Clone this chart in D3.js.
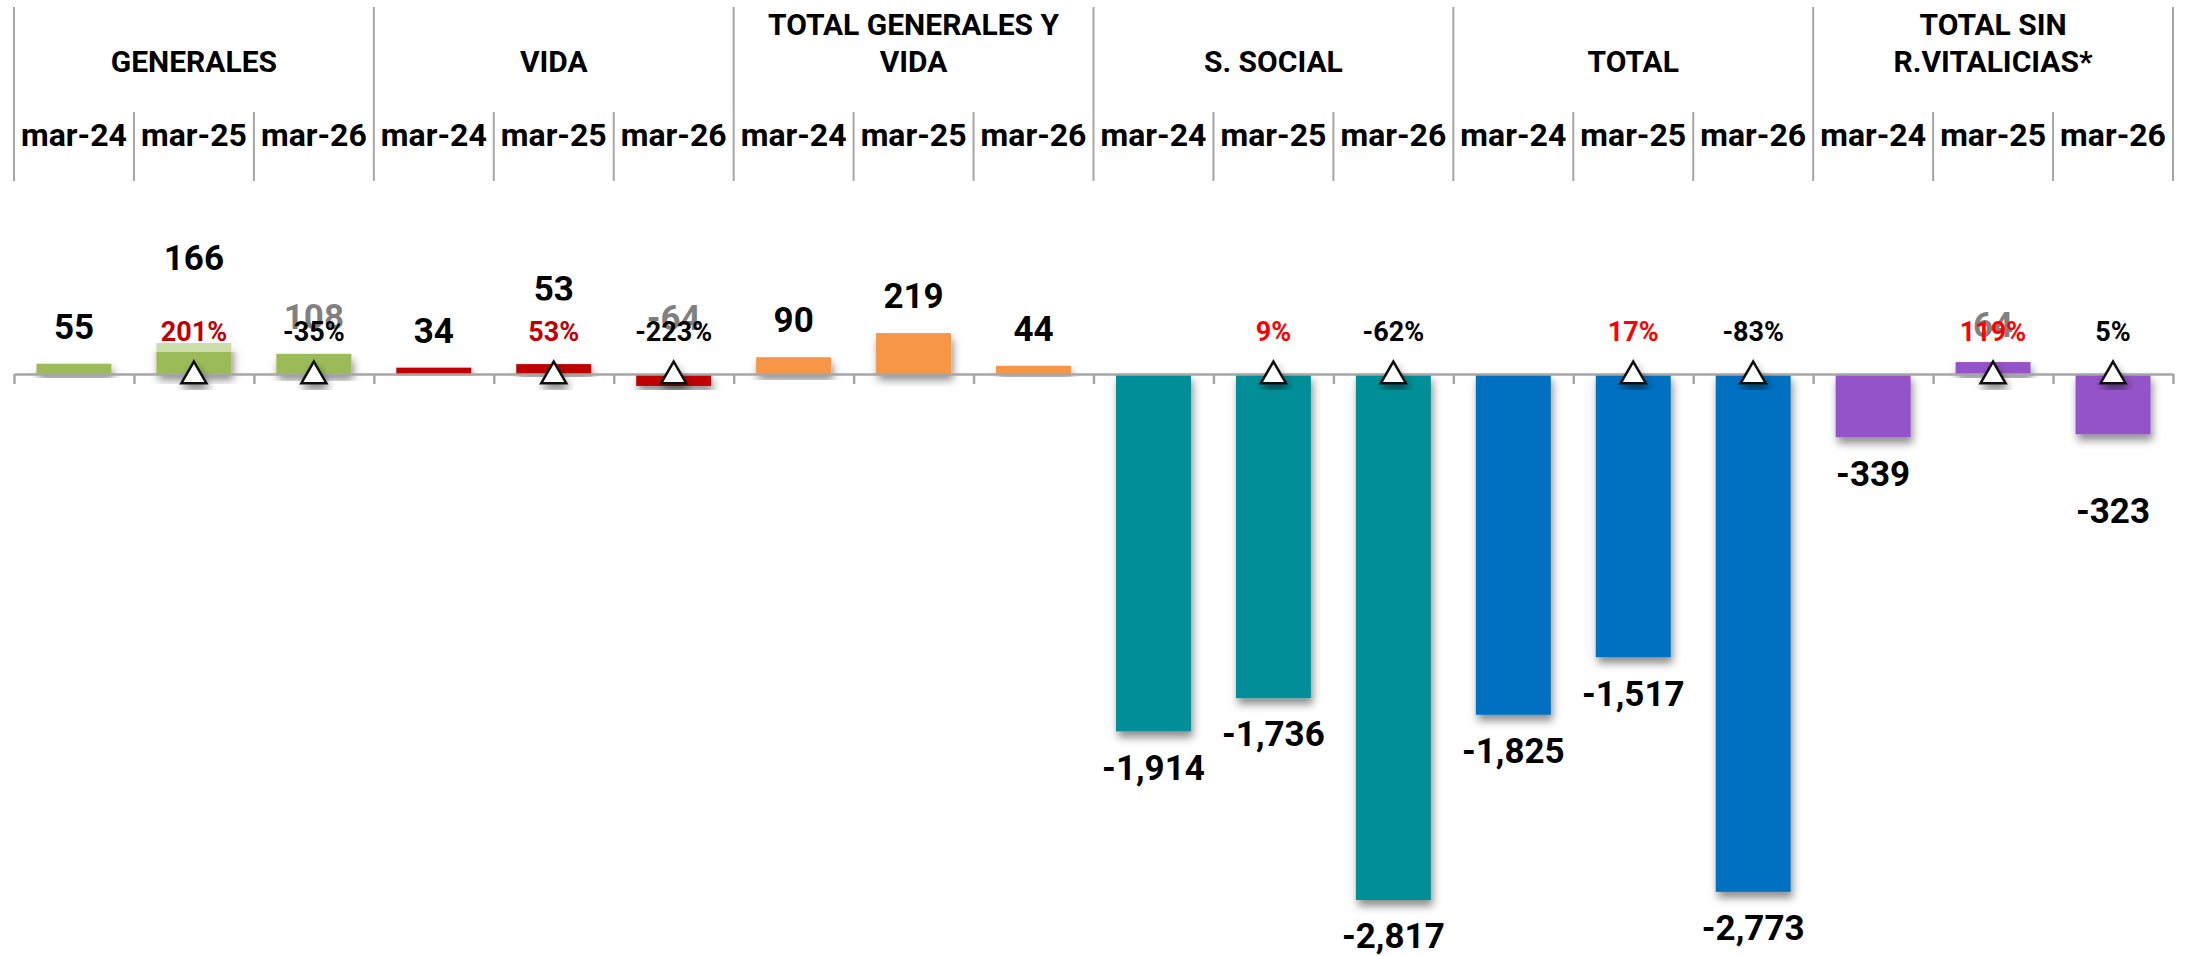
<!DOCTYPE html>
<html>
<head>
<meta charset="utf-8">
<script src="https://cdn.jsdelivr.net/npm/d3@7"></script>
<style>
body{margin:0;background:#fff;}
svg{display:block;font-family:Roboto,"Liberation Sans",sans-serif;font-weight:bold;}
</style>
</head>
<body>
<script>
// chart data
const groupTitles = [["GENERALES"], ["VIDA"], ["TOTAL GENERALES Y", "VIDA"], ["S. SOCIAL"], ["TOTAL"], ["TOTAL SIN", "R.VITALICIAS*"]]
const periods = ["mar-24", "mar-25", "mar-26"]
const generales = [55, 166, 108]
const vida = [34, 53, -64]
const totalGenVida = [90, 219, 44]
const sSocial = [-1914, -1736, -2817]
const total = [-1825, -1517, -2773]
const totalSinRV = [-339, 64, -323]
const pctGenerales = [null, 201, -35]
const pctVida = [null, 53, -223]
const pctTotalGenVida = [null, null, null]
const pctSSocial = [null, 9, -62]
const pctTotal = [null, 17, -83]
const pctTotalSinRV = [null, 119, 5]

let seriesValues = [generales, vida, totalGenVida, sSocial, total, totalSinRV]
let seriesPct = [pctGenerales, pctVida, pctTotalGenVida, pctSSocial, pctTotal, pctTotalSinRV]
let colors = ["#9BBB59", "#C00000", "#F79646", "#008F98", "#0070C0", "#9553C9"]
// colour of the % labels, the first two groups use a darker red
let pctColor = (g, v) => v < 0 || (g == 5 && v == 5) ? "#000" : (g < 2 ? "#C00000" : "#FF0000")

let data = []
seriesValues.forEach((vals, g) => vals.forEach((v, p) => {
    data.push({key: g + "-" + p, g: g, p: p, value: v, pct: seriesPct[g][p]})
}))

let w = 2187, h = 956
let left = 14, right = 2173, zeroY = 374
let fmt = d3.formatLocale({decimal: ".", thousands: ",", grouping: [3], currency: ["", ""], minus: "-"}).format(",")

let svg = d3.select("body").append("svg")
    .attr("width", w)
    .attr("height", h)

let defs = svg.append("defs")
defs.append("filter").attr("id", "shadow")
    .attr("x", "-30%").attr("y", "-30%").attr("width", "160%").attr("height", "160%")
    .append("feDropShadow")
    .attr("dx", 2).attr("dy", 6).attr("stdDeviation", 4)
    .attr("flood-color", "#000").attr("flood-opacity", 0.45)

let x = d3.scaleBand()
    .domain(data.map(d => d.key))
    .range([left, right])
    .paddingInner(0.375)
    .paddingOuter(0.1875)
let edge = d3.scaleLinear()
    .domain([0, data.length])
    .range([left, right])
let y = d3.scaleLinear()
    .domain([0, -2817])
    .range([zeroY, 900])

// header
let grid = svg.append("g").attr("stroke", "#A6A6A6").attr("stroke-width", 2)
d3.range(data.length + 1).forEach(i => {
    grid.append("line")
        .attr("x1", edge(i)).attr("x2", edge(i))
        .attr("y1", i % 3 == 0 ? 7 : 112)
        .attr("y2", 181)
})
groupTitles.forEach((lines, g) => {
    let t = svg.append("text")
        .attr("x", edge(g * 3 + 1.5))
        .attr("text-anchor", "middle")
        .attr("font-size", 30)
        .attr("fill", "#000")
    lines.forEach((l, i) => {
        t.append("tspan")
            .attr("x", edge(g * 3 + 1.5))
            .attr("y", (lines.length == 1 ? 61 : 24 + i * 37) + 11)
            .text(l)
    })
})
svg.selectAll(".period")
    .data(data)
    .enter()
    .append("text")
    .attr("class", "period")
    .attr("x", d => x(d.key) + x.bandwidth() / 2)
    .attr("y", 135 + 11)
    .attr("text-anchor", "middle")
    .attr("font-size", 32)
    .text(d => periods[d.p])

// bars
svg.append("g").selectAll("rect")
    .data(data)
    .enter()
    .append("rect")
    .attr("x", d => x(d.key))
    .attr("y", d => y(Math.max(0, d.value)))
    .attr("width", x.bandwidth())
    .attr("height", d => Math.abs(y(d.value) - y(0)))
    .attr("fill", d => colors[d.g])
    .attr("filter", "url(#shadow)")

let axis = svg.append("g")
    .attr("transform", "translate(0," + zeroY + ")")
    .call(d3.axisBottom(edge).tickValues(d3.range(data.length + 1)).tickSize(10).tickSizeOuter(0).tickFormat(""))
axis.selectAll("path,line").attr("stroke", "#A6A6A6").attr("stroke-width", 2.5)

// markers
let withPct = data.filter(d => d.pct != null)
svg.append("g").selectAll("path")
    .data(withPct)
    .enter()
    .append("path")
    .attr("d", d3.symbol(d3.symbolTriangle, 270))
    .attr("transform", d => "translate(" + (x(d.key) + x.bandwidth() / 2) + "," + (zeroY + 2) + ")")
    .attr("fill", "#fff")
    .attr("stroke", "#111")
    .attr("stroke-width", 2.5)
    .attr("filter", "url(#shadow)")

// value labels, a few were dragged away from the bar in the original
let shift = {"0-1": -48, "1-1": -38, "1-2": -19, "5-2": 40}
let above = {"1-2": true}
svg.append("g").selectAll("text")
    .data(data)
    .enter()
    .append("text")
    .attr("x", d => x(d.key) + x.bandwidth() / 2)
    .attr("y", d => {
        let s = shift[d.key] || 0
        if (d.value >= 0 || above[d.key]) return y(Math.max(0, d.value)) - 37 + s
        return y(d.value) + 36 + s
    })
    .attr("dy", "0.35em")
    .attr("text-anchor", "middle")
    .attr("font-size", 35)
    .text(d => fmt(d.value))

// % labels with their half transparent white boxes
let pl = svg.append("g").selectAll("g")
    .data(withPct)
    .enter()
    .append("g")
    .attr("transform", d => "translate(" + (x(d.key) + x.bandwidth() / 2) + ",332)")
pl.append("rect")
    .attr("x", -46).attr("y", -32)
    .attr("width", 92).attr("height", 52)
    .attr("fill", "#fff")
    .attr("fill-opacity", 0.5)
pl.append("text")
    .attr("dy", "0.35em")
    .attr("text-anchor", "middle")
    .attr("font-size", 27)
    .attr("fill", d => pctColor(d.g, d.pct))
    .text(d => d.pct + "%")
</script>
</body>
</html>
